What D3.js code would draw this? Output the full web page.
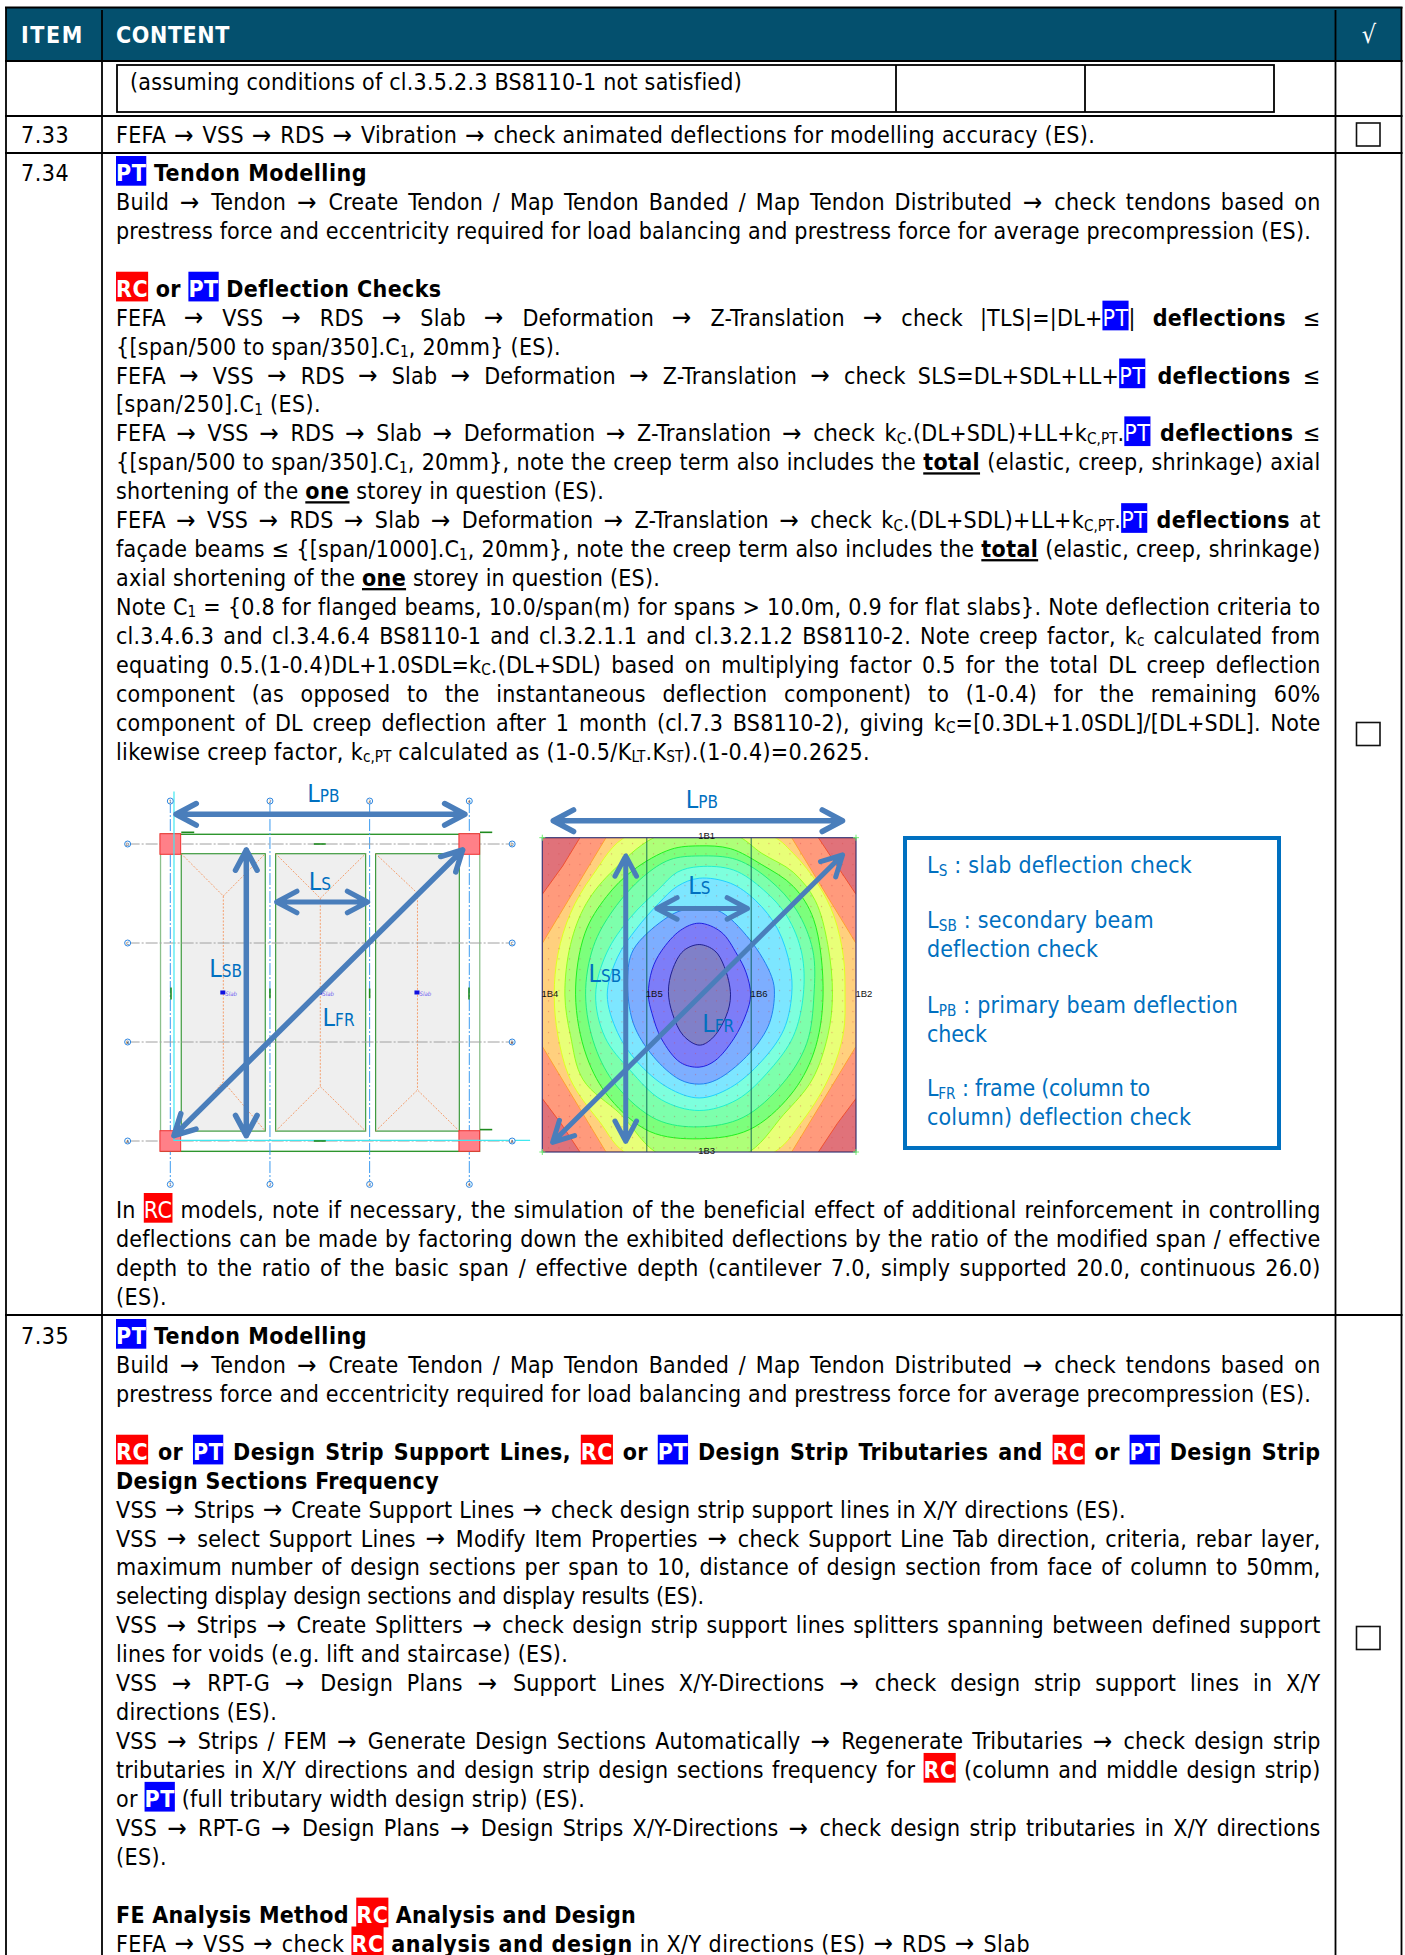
<!DOCTYPE html>
<html>
<head>
<meta charset="utf-8">
<script src="https://cdn.jsdelivr.net/npm/d3@7"></script>
<style>
  html, body { margin: 0; padding: 0; background: #fff; }
  svg { display: block; }
  text { white-space: pre; }
</style>
</head>
<body>
<svg id="page" width="1405" height="1955"></svg>
<script>
// --- text content: ** bold, __ underlined bold, ~ subscript, @RC/@PT badges, leading | = justified
const headerLabels = ["ITEM", "CONTENT", "√"];
const itemLabels = ["7.33", "7.34", "7.35"];
const carryLine = "(assuming conditions of cl.3.5.2.3 BS8110-1 not satisfied)";
const row733 = ["FEFA → VSS → RDS → Vibration → check animated deflections for modelling accuracy (ES)."];
const row734a = [
  "**@PT Tendon Modelling**",
  "|Build → Tendon → Create Tendon / Map Tendon Banded / Map Tendon Distributed → check tendons based on",
  "prestress force and eccentricity required for load balancing and prestress force for average precompression (ES).",
  "",
  "**@RC or @PT Deflection Checks**",
  "|FEFA → VSS → RDS → Slab → Deformation → Z-Translation → check |TLS|=|DL+@PT| **deflections** ≤",
  "{[span/500 to span/350].C~1~, 20mm} (ES).",
  "|FEFA → VSS → RDS → Slab → Deformation → Z-Translation → check SLS=DL+SDL+LL+@PT **deflections** ≤",
  "[span/250].C~1~ (ES).",
  "|FEFA → VSS → RDS → Slab → Deformation → Z-Translation → check k~C~.(DL+SDL)+LL+k~C,PT~.@PT **deflections** ≤",
  "|{[span/500 to span/350].C~1~, 20mm}, note the creep term also includes the __total__ (elastic, creep, shrinkage) axial",
  "shortening of the __one__ storey in question (ES).",
  "|FEFA → VSS → RDS → Slab → Deformation → Z-Translation → check k~C~.(DL+SDL)+LL+k~C,PT~.@PT **deflections** at",
  "|façade beams ≤ {[span/1000].C~1~, 20mm}, note the creep term also includes the __total__ (elastic, creep, shrinkage)",
  "axial shortening of the __one__ storey in question (ES).",
  "|Note C~1~ = {0.8 for flanged beams, 10.0/span(m) for spans > 10.0m, 0.9 for flat slabs}. Note deflection criteria to",
  "|cl.3.4.6.3 and cl.3.4.6.4 BS8110-1 and cl.3.2.1.1 and cl.3.2.1.2 BS8110-2. Note creep factor, k~c~ calculated from",
  "|equating 0.5.(1-0.4)DL+1.0SDL=k~C~.(DL+SDL) based on multiplying factor 0.5 for the total DL creep deflection",
  "|component (as opposed to the instantaneous deflection component) to (1-0.4) for the remaining 60%",
  "|component of DL creep deflection after 1 month (cl.7.3 BS8110-2), giving k~C~=[0.3DL+1.0SDL]/[DL+SDL]. Note",
  "likewise creep factor, k~c,PT~ calculated as (1-0.5/K~LT~.K~ST~).(1-0.4)=0.2625."
];
const row734b = [
  "|In @RC models, note if necessary, the simulation of the beneficial effect of additional reinforcement in controlling",
  "|deflections can be made by factoring down the exhibited deflections by the ratio of the modified span / effective",
  "|depth to the ratio of the basic span / effective depth (cantilever 7.0, simply supported 20.0, continuous 26.0)",
  "(ES)."
];
const row735 = [
  "**@PT Tendon Modelling**",
  "|Build → Tendon → Create Tendon / Map Tendon Banded / Map Tendon Distributed → check tendons based on",
  "prestress force and eccentricity required for load balancing and prestress force for average precompression (ES).",
  "",
  "|**@RC or @PT Design Strip Support Lines, @RC or @PT Design Strip Tributaries and @RC or @PT Design Strip**",
  "**Design Sections Frequency**",
  "VSS → Strips → Create Support Lines → check design strip support lines in X/Y directions (ES).",
  "|VSS → select Support Lines → Modify Item Properties → check Support Line Tab direction, criteria, rebar layer,",
  "|maximum number of design sections per span to 10, distance of design section from face of column to 50mm,",
  "selecting display design sections and display results (ES).",
  "|VSS → Strips → Create Splitters → check design strip support lines splitters spanning between defined support",
  "lines for voids (e.g. lift and staircase) (ES).",
  "|VSS → RPT-G → Design Plans → Support Lines X/Y-Directions → check design strip support lines in X/Y",
  "directions (ES).",
  "|VSS → Strips / FEM → Generate Design Sections Automatically → Regenerate Tributaries → check design strip",
  "|tributaries in X/Y directions and design strip design sections frequency for **@RC** (column and middle design strip)",
  "or **@PT** (full tributary width design strip) (ES).",
  "|VSS → RPT-G → Design Plans → Design Strips X/Y-Directions → check design strip tributaries in X/Y directions",
  "(ES).",
  "",
  "**FE Analysis Method @RC Analysis and Design**",
  "FEFA → VSS → check **@RC analysis and design** in X/Y directions (ES) → RDS → Slab"
];
const legendLines = [
  "L~S~ : slab deflection check",
  "",
  "L~SB~ : secondary beam",
  "deflection check",
  "",
  "L~PB~ : primary beam deflection",
  "check",
  "",
  "L~FR~ : frame (column to",
  "column) deflection check"
];

// --- plan diagram, in grid bays (grid line 1 = 0, grid line 4 = 3)
const gridTicks = [0, 1, 2, 3];
const gridNamesX = ["1", "2", "3", "4"];
const gridNamesY = ["D", "C", "B", "A"];
const slabPanels = [
  {x0: 0.11, x1: 0.953, ridge: 0.532, top: 0.525, bottom: 2.40},
  {x0: 1.057, x1: 1.96, ridge: 1.505, top: 0.549, bottom: 2.45},
  {x0: 2.06, x1: 2.90, ridge: 2.48, top: 0.498, bottom: 2.485}
];
const greenMarks = [
  [0.11, -0.118, 0.24, -0.118], [3.107, -0.118, 3.23, -0.118], [3.107, 2.885, 3.23, 2.885],
  [1.44, 0, 1.56, 0], [1.44, 3, 1.56, 3],
  [0.007, 1.45, 0.007, 1.57], [1.0, 1.46, 1.0, 1.56], [2.0, 1.46, 2.0, 1.56], [2.997, 1.45, 2.997, 1.57]
];
const planArrows = [
  {name: "LPB", x0: 0.057, y0: -0.30, x1: 2.956, y1: -0.30, w: 5.5},
  {name: "LS", x0: 1.067, y0: 0.586, x1: 1.98, y1: 0.586, w: 5},
  {name: "LSB", x0: 0.7625, y0: 0.06, x1: 0.7625, y1: 2.946, w: 5.5},
  {name: "LFR", x0: 0.037, y0: 2.946, x1: 2.933, y1: 0.06, w: 5.5}
];
const planLabels = [
  {main: "L", sub: "PB", x: 1.375, y: -0.424}, {main: "L", sub: "S", x: 1.39, y: 0.465},
  {main: "L", sub: "SB", x: 0.39, y: 1.347}, {main: "L", sub: "FR", x: 1.528, y: 1.835}
];

// --- contour plot, bands from the slab edge to the midspan, in % of the bay
const cornerBands = [
  [[0, 0], [12, 0], [6.5, 9], [0, 18]], [[100, 0], [88, 0], [94, 9], [100, 18]],
  [[100, 100], [88, 100], [94, 91], [100, 83]], [[0, 100], [12, 100], [6, 91], [0, 83]]
];
const contourBands = [
  [[20.3, 0], [79.5, 0], [100, 33.6], [100, 66.4], [79.5, 100], [20.3, 100], [0, 66.4], [0, 33.6]],
  [[28, -1], [72, -1], [80, 5], [88, 15], [93, 25], [96, 38], [96.5, 50], [96, 62], [92, 75], [83, 90], [72, 101], [28, 101], [18, 90], [9, 77], [5, 63], [3.8, 50], [5, 37], [9, 24], [16, 12]],
  [[38, -1], [61, -1], [70, 5], [80, 11], [87, 20], [91, 34], [92.5, 50], [91, 63], [86, 77], [77, 88], [64, 101], [38, 101], [25, 88], [13, 77], [9, 63], [7.2, 50], [9, 34], [14, 21], [23, 10]],
  [[50, 2.6], [60, 3.5], [70, 8.6], [80, 15.5], [86.5, 26], [89.5, 50], [86.5, 68.5], [79, 82], [66, 92.9], [50, 95.8], [34.3, 93.5], [21.6, 83], [14.1, 69.5], [10.6, 50], [13.6, 30.4], [20.5, 18.7], [29, 10.3], [41, 3.7]],
  [[50, 5.8], [62, 7], [72.5, 13.5], [81, 23], [86.2, 35.7], [86.6, 50], [84.3, 65.4], [76.8, 78], [64, 89], [50, 92], [36.5, 89.7], [23.7, 79], [16.8, 66.4], [13.8, 50], [16.3, 34.6], [22.6, 23], [32.2, 12.4], [40.7, 7]],
  [[50, 9.2], [61, 10.3], [70.5, 16.6], [78, 25], [82.7, 36.7], [83.2, 50], [80, 63.2], [72.6, 73.8], [62, 83.4], [50, 86.8], [38, 83.4], [28, 74], [20, 63.5], [17, 50], [20.5, 36.7], [28, 25.5], [37, 16.5], [43, 11]],
  [[50, 12.9], [60, 14.5], [68, 20], [75, 29], [79, 41], [79.5, 50], [77, 61], [70, 71], [60, 79.5], [50, 82.8], [40, 79.5], [30, 71], [24, 62], [20.7, 50], [24, 38], [30, 29], [37, 21], [43, 15.5]],
  [[55.6, 23], [66.2, 32.5], [73.1, 44.2], [74, 50], [72, 60], [65.1, 69.6], [55.6, 77], [50, 78.4], [43.9, 77], [35.4, 69.6], [29, 59], [27.2, 45], [29, 35.7], [38.6, 26.2], [45, 23]],
  [[50, 27.2], [57, 30], [62, 37], [65, 43], [66.4, 50], [65, 56], [61, 64], [55, 71], [50, 73], [44, 71.5], [38, 64], [35, 56], [33.8, 50], [35, 42], [38, 36], [44, 29.5]],
  [[50, 34], [55, 36], [58, 41], [60, 50], [58.5, 57], [54, 64], [50, 66], [45, 63], [41.5, 56], [40.2, 49], [41.5, 42], [45, 36]]
];
const bandFills = ["#FFD07E", "#E8FF78", "#AEFF78", "#7CFF7C", "#7DFFAC", "#7DFFDD", "#7DE6FF", "#7DAEFF", "#7D7DF8", "#8080C8"];
const bandStrokes = ["#FFA030", "#E0FF20", "#90FF20", "#20F020", "#20F080", "#20F0D0", "#20D0FF", "#2080F0", "#2020E0", "#202090"];
const stripBeams = [33.3, 66.6];
const beamLabels = [
  {t: "1B1", x: 52.4, y: -0.6}, {t: "1B3", x: 52.4, y: 99.4}, {t: "1B4", x: 2.4, y: 49.6},
  {t: "1B5", x: 35.7, y: 49.6}, {t: "1B6", x: 69.1, y: 49.6}, {t: "1B2", x: 102.5, y: 49.6}
];
const heatArrows = [
  {name: "LPB", x0: 3.5, y0: -5.4, x1: 95.7, y1: -5.4, w: 5.5},
  {name: "LS", x0: 36.5, y0: 22.5, x1: 65.4, y1: 22.5, w: 5},
  {name: "LSB", x0: 26.6, y0: 5.8, x1: 26.6, y1: 96.6, w: 5},
  {name: "LFR", x0: 3.3, y0: 96.9, x1: 95.7, y1: 5.5, w: 5}
];
const heatLabels = [
  {main: "L", sub: "PB", x: 45.7, y: -9.3}, {main: "L", sub: "S", x: 46.5, y: 17.9},
  {main: "L", sub: "SB", x: 14.7, y: 46}, {main: "L", sub: "FR", x: 51, y: 61.7}
];

// --- layout
const svg = d3.select("#page");
const FONT = '"DejaVu Sans Condensed", "DejaVu Sans"';
const FS = 23, TRACK = 0.22, BOLD_TRACK = 0.35, BADGE_TRACK = 0.5;
const INK = "#000";
const TEAL = "#04506E";
const LEFT = 116, RIGHT = 1320.5;
const COL_A = 102, COL_B = 1335.5, EDGE_L = 6, EDGE_R = 1401.5;
const PITCH = 28.93;
const ARROW = "#4A7EBB", LABEL = "#0070C0";

// right ends of the lines that are not justified, the fonts differ so each is fitted
const endsCarry = 742;
const ends733 = {0: 1095};
const ends734a = {0: 367, 2: 1311, 4: 441.5, 6: 561, 8: 321, 11: 604, 14: 660, 20: 870};
const ends734b = {3: 167};
const ends735 = {0: 367, 2: 1311, 5: 439, 6: 1126, 9: 704, 11: 568, 13: 277, 16: 585, 18: 167, 20: 636, 21: 1030};
const endsLegend = {0: 1192, 2: 1154, 3: 1098, 5: 1238, 6: 987, 8: 1150, 9: 1191};

function parseLine(src) {
  const runs = [];
  let bold = false, under = false, sub = false;
  src.split(/(\*\*|__|~|@RC|@PT|→)/).forEach(tok => {
    if (tok === "**") bold = !bold;
    else if (tok === "__") under = !under;
    else if (tok === "~") sub = !sub;
    else if (tok === "@RC" || tok === "@PT") runs.push({text: tok.slice(1), bold, badge: tok.slice(1)});
    else if (tok === "→") runs.push({text: tok, arrow: true});
    else if (tok) runs.push({text: tok, bold: bold || under, under, sub});
  });
  return runs;
}

function runTrack(r) {
  if (r.sub) return 0;
  if (r.arrow) return 3.2;
  if (r.badge) return BADGE_TRACK;
  return r.bold ? BOLD_TRACK : TRACK;
}

function drawLine(g, src, baseline, opts = {}) {
  const justify = src[0] === "|";
  const runs = parseLine(justify ? src.slice(1) : src);
  const x0 = opts.x === undefined ? LEFT : opts.x;
  const fs = opts.size || FS;
  const fill = opts.fill || INK;
  let spaces = 0;
  runs.forEach(r => {
    r.rect = r.badge ? g.append("rect").attr("fill", r.badge === "RC" ? "#FF0000" : "#0000FF") : null;
    r.node = g.append("text")
      .attr("font-family", FONT)
      .attr("font-size", r.sub ? fs * 0.66 : r.arrow ? fs * 1.12 : fs)
      .attr("font-weight", r.bold ? "bold" : "normal")
      .attr("letter-spacing", runTrack(r))
      .attr("fill", r.badge ? "#fff" : fill)
      .style("text-decoration", r.under ? "underline" : null)
      .text(r.text);
    r.w = r.node.node().getComputedTextLength();
    if (!r.badge && !r.arrow) spaces += (r.text.match(/ /g) || []).length;
  });
  const natural = d3.sum(runs, r => r.w);
  const extra = justify && spaces ? (RIGHT - x0 - natural) / spaces : 0;

  // lines with a known right end take up the difference in the letter spacing
  if (opts.end !== undefined) {
    const fitted = runs.filter(r => !r.badge && !r.arrow && !r.sub);
    const delta = (opts.end - x0 - natural) / d3.sum(fitted, r => r.text.length);
    fitted.forEach(r => {
      r.node.attr("letter-spacing", runTrack(r) + delta);
      r.w = r.node.node().getComputedTextLength();
    });
  }

  let x = x0;
  runs.forEach(r => {
    const n = (r.badge || r.arrow) ? 0 : (r.text.match(/ /g) || []).length;
    r.node.attr("x", x + (r.arrow ? 1.2 : 0)).attr("y", baseline + (r.sub ? 2.5 : r.arrow ? 0.8 : 0))
      .attr("word-spacing", (r.badge || r.arrow) ? null : extra);
    if (r.rect) r.rect.attr("x", x).attr("y", baseline - 25).attr("width", r.w).attr("height", 29.7);
    x += r.w + n * extra;
  });
}

function drawBlock(g, lines, firstBaseline, ends) {
  const y = d3.scaleLinear().domain([0, 1]).range([firstBaseline, firstBaseline + PITCH]);
  lines.forEach((src, i) => { if (src) drawLine(g, src, y(i), {end: ends[i]}); });
}

function hline(g, y, x0, x1, w) {
  g.append("line").attr("x1", x0).attr("x2", x1).attr("y1", y).attr("y2", y).attr("stroke", INK).attr("stroke-width", w);
}
function vline(g, x, y0, y1, w) {
  g.append("line").attr("x1", x).attr("x2", x).attr("y1", y0).attr("y2", y1).attr("stroke", INK).attr("stroke-width", w);
}

// header band and table rules
const tableG = svg.append("g");
tableG.append("rect").attr("x", EDGE_L).attr("y", 7.5).attr("width", EDGE_R - EDGE_L).attr("height", 53.5).attr("fill", TEAL);
[7.5, 61, 116, 153, 1315].forEach(y => hline(tableG, y, EDGE_L - 1, EDGE_R + 1, 1.8));
vline(tableG, EDGE_L, 7, 1955, 1.8);
vline(tableG, COL_A, 10, 1955, 1.8);
vline(tableG, COL_B, 10, 1955, 1.8);
vline(tableG, EDGE_R, 7, 1955, 1.8);

// carried-over check table at the top of the page
const boxEdges = [117, 896, 1085, 1274];
tableG.append("rect").attr("x", boxEdges[0]).attr("y", 65).attr("width", boxEdges[3] - boxEdges[0]).attr("height", 47)
  .attr("fill", "none").attr("stroke", INK).attr("stroke-width", 1.8);
boxEdges.slice(1, 3).forEach(x => vline(tableG, x, 65, 112, 1.8));

// header labels
const textG = svg.append("g");
[[headerLabels[0], 21, 1.6], [headerLabels[1], 116, 0.6]].forEach(([t, x, ls]) => {
  textG.append("text").attr("x", x).attr("y", 43).attr("font-family", FONT).attr("font-weight", "bold")
    .attr("font-size", 23).attr("letter-spacing", ls).attr("fill", "#fff").text(t);
});
textG.append("text").attr("x", 1369).attr("y", 43).attr("text-anchor", "middle").attr("font-family", FONT)
  .attr("font-size", 25).attr("fill", "#fff").text(headerLabels[2]);

// item numbers
const itemBaselines = [143.3, 181, 1344];
itemLabels.forEach((t, i) => {
  textG.append("text").attr("x", 21).attr("y", itemBaselines[i]).attr("font-family", FONT)
    .attr("font-size", FS).attr("letter-spacing", 0.55).text(t);
});

// body text
drawLine(textG, carryLine, 90, {x: 130, end: endsCarry});
drawBlock(textG, row733, 143.3, ends733);
drawBlock(textG, row734a, 181, ends734a);
drawBlock(textG, row734b, 1218, ends734b);
drawBlock(textG, row735, 1344, ends735);

// tick boxes
const tickCentres = [134.5, 734, 1638];
tickCentres.forEach(c => {
  textG.append("rect").attr("x", 1356.5).attr("y", c - 11.5).attr("width", 23.5).attr("height", 23)
    .attr("fill", "#fff").attr("stroke", "#111").attr("stroke-width", 1.6);
});

// both diagrams use the same arrow and label look
function arrowPath(a, x, y) {
  const ax = x(a.x0), ay = y(a.y0), bx = x(a.x1), by = y(a.y1);
  const ang = Math.atan2(by - ay, bx - ax), wing = 23, off = 28 * Math.PI / 180;
  const head = (px, py, dir) => [
    [px + wing * Math.cos(dir - off), py + wing * Math.sin(dir - off)], [px, py],
    [px + wing * Math.cos(dir + off), py + wing * Math.sin(dir + off)]
  ];
  const line = d3.line();
  return line([[ax, ay], [bx, by]]) + line(head(ax, ay, ang)) + line(head(bx, by, ang + Math.PI));
}
function drawArrows(g, arrows, x, y) {
  g.selectAll("path.arrow").data(arrows).join("path").attr("class", "arrow")
    .attr("d", d => arrowPath(d, x, y)).attr("fill", "none").attr("stroke", ARROW)
    .attr("stroke-width", d => d.w).attr("stroke-linecap", "round").attr("stroke-linejoin", "round");
}
function drawLabels(g, labels, x, y) {
  labels.forEach(d => {
    const t = g.append("text").attr("x", x(d.x)).attr("y", y(d.y)).attr("font-family", FONT).attr("fill", LABEL);
    t.append("tspan").attr("font-size", 25).text(d.main);
    t.append("tspan").attr("font-size", 17).text(d.sub);
  });
}

// --- plan diagram
const planX = d3.scaleLinear().domain([0, 3]).range([170.3, 469.3]);
const planY = d3.scaleLinear().domain([0, 3]).range([844, 1141]);
const planG = svg.append("g");
const edge = {lo: -0.098, hi: 3.105, colHalf: 0.104};

planG.selectAll("rect.panel").data(slabPanels).join("rect").attr("class", "panel")
  .attr("x", d => planX(d.x0)).attr("width", d => planX(d.x1) - planX(d.x0))
  .attr("y", planY(0.098)).attr("height", planY(2.90) - planY(0.098))
  .attr("fill", "#EFEFEF").attr("stroke", "#3E9A3E").attr("stroke-width", 1.2);

const ridgeLine = d3.line().x(d => planX(d[0])).y(d => planY(d[1]));
planG.selectAll("path.ridge").data(slabPanels).join("path").attr("class", "ridge")
  .attr("d", d => ridgeLine([[d.x0, 0.098], [d.ridge, d.top], [d.x1, 0.098]]) +
    ridgeLine([[d.ridge, d.top], [d.ridge, d.bottom]]) +
    ridgeLine([[d.x0, 2.90], [d.ridge, d.bottom], [d.x1, 2.90]]))
  .attr("fill", "none").attr("stroke", "#F4A070").attr("stroke-width", 1).attr("stroke-dasharray", "2 1.5");

// beam frame
planG.append("rect").attr("x", planX(edge.lo)).attr("y", planY(edge.lo))
  .attr("width", planX(edge.hi) - planX(edge.lo)).attr("height", planY(edge.hi) - planY(edge.lo))
  .attr("fill", "none").attr("stroke", "#8CC08C").attr("stroke-width", 1.3);
planG.append("line").attr("x1", planX(edge.lo)).attr("x2", planX(edge.hi)).attr("y1", planY(edge.lo)).attr("y2", planY(edge.lo))
  .attr("stroke", "#2E962E").attr("stroke-width", 1.2);
planG.append("line").attr("x1", planX(edge.lo)).attr("x2", planX(edge.hi)).attr("y1", planY(edge.hi)).attr("y2", planY(edge.hi))
  .attr("stroke", "#2E962E").attr("stroke-width", 1.2);

// grid lines
planG.selectAll("line.gx").data(gridTicks).join("line").attr("class", "gx")
  .attr("x1", d => planX(d)).attr("x2", d => planX(d)).attr("y1", planY(-0.434)).attr("y2", planY(3.438))
  .attr("stroke", "#3C9BF0").attr("stroke-width", 1).attr("stroke-dasharray", "12 2 2 2");
planG.selectAll("line.gy").data(gridTicks).join("line").attr("class", "gy")
  .attr("x1", planX(-0.428)).attr("x2", planX(3.43)).attr("y1", d => planY(d)).attr("y2", d => planY(d))
  .attr("stroke", "#A0A0A0").attr("stroke-width", 1).attr("stroke-dasharray", "12 2 2 2");

// columns
const colCentres = [[0, 0], [3, 0], [0, 3], [3, 3]];
planG.selectAll("rect.col").data(colCentres).join("rect").attr("class", "col")
  .attr("x", d => planX(d[0] - edge.colHalf)).attr("y", d => planY(d[1] - edge.colHalf))
  .attr("width", planX(2 * edge.colHalf) - planX(0)).attr("height", planY(2 * edge.colHalf) - planY(0))
  .attr("fill", "#FF8088").attr("stroke", "#F03030").attr("stroke-width", 1);

// cyan reference lines
planG.append("path").attr("d", ridgeLine([[0.037, -0.53], [0.037, 2.993], [3.61, 2.993]]))
  .attr("fill", "none").attr("stroke", "#40E8F0").attr("stroke-width", 1.2);

// green section marks
planG.selectAll("line.mark").data(greenMarks).join("line").attr("class", "mark")
  .attr("x1", d => planX(d[0])).attr("y1", d => planY(d[1])).attr("x2", d => planX(d[2])).attr("y2", d => planY(d[3]))
  .attr("stroke", "#1E8A1E").attr("stroke-width", 1.6);

// slab markers
slabPanels.forEach(d => {
  planG.append("rect").attr("x", planX(d.ridge) - 3).attr("y", planY(1.51) - 3).attr("width", 5).attr("height", 4).attr("fill", "#1010E0");
  planG.append("text").attr("x", planX(d.ridge) + 2).attr("y", planY(1.51) + 2.5).attr("font-family", FONT)
    .attr("font-size", 6).attr("font-style", "italic").attr("fill", "#7060F0").text("Slab");
});

// grid bubbles
function bubble(cx, cy, name) {
  planG.append("circle").attr("cx", cx).attr("cy", cy).attr("r", 3).attr("fill", "#fff").attr("stroke", "#2E86E0").attr("stroke-width", 1);
  planG.append("text").attr("x", cx).attr("y", cy + 1.7).attr("text-anchor", "middle").attr("font-family", FONT).attr("font-size", 4.5).text(name);
}
gridTicks.forEach((d, i) => {
  bubble(planX(d), planY(-0.434), gridNamesX[i]);
  bubble(planX(d), planY(3.438), gridNamesX[i]);
  bubble(planX(-0.428), planY(d), gridNamesY[i]);
  bubble(planX(3.43), planY(d), gridNamesY[i]);
});
drawArrows(planG, planArrows, planX, planY);
drawLabels(planG, planLabels, planX, planY);

// --- contour diagram
const heatX = d3.scaleLinear().domain([0, 100]).range([542.3, 856]);
const heatY = d3.scaleLinear().domain([0, 100]).range([837.7, 1152]);
const heatG = svg.append("g");
const defs = svg.append("defs");
defs.append("clipPath").attr("id", "heatClip").append("rect")
  .attr("x", heatX(0)).attr("y", heatY(0)).attr("width", heatX(100) - heatX(0)).attr("height", heatY(100) - heatY(0));
const dots = defs.append("pattern").attr("id", "meshDots").attr("width", 10.5).attr("height", 10.5).attr("patternUnits", "userSpaceOnUse");
dots.append("rect").attr("x", 2).attr("y", 3).attr("width", 1).attr("height", 1).attr("fill", "#D04040").attr("opacity", 0.55);

const bands = heatG.append("g").attr("clip-path", "url(#heatClip)");
bands.append("rect").attr("x", heatX(0)).attr("y", heatY(0)).attr("width", heatX(100) - heatX(0)).attr("height", heatY(100) - heatY(0)).attr("fill", "#FF9A7C");
const ringStraight = d3.line().x(d => heatX(d[0])).y(d => heatY(d[1])).curve(d3.curveLinearClosed);
const ringSmooth = d3.line().x(d => heatX(d[0])).y(d => heatY(d[1])).curve(d3.curveCatmullRomClosed.alpha(0.5));
bands.selectAll("path.corner").data(cornerBands).join("path").attr("class", "corner")
  .attr("d", ringStraight).attr("fill", "#E0727A").attr("stroke", "#F05030").attr("stroke-width", 1);
bands.selectAll("path.band").data(contourBands).join("path").attr("class", "band")
  .attr("d", (d, i) => i === 0 ? ringStraight(d) : ringSmooth(d))
  .attr("fill", (d, i) => bandFills[i]).attr("stroke", (d, i) => bandStrokes[i]).attr("stroke-width", 1);
bands.append("rect").attr("x", heatX(0)).attr("y", heatY(0)).attr("width", heatX(100) - heatX(0)).attr("height", heatY(100) - heatY(0)).attr("fill", "url(#meshDots)");

stripBeams.forEach(d => {
  heatG.append("line").attr("x1", heatX(d)).attr("x2", heatX(d)).attr("y1", heatY(0)).attr("y2", heatY(100))
    .attr("stroke", "#0A5A50").attr("stroke-opacity", 0.75).attr("stroke-width", 1.2);
});
heatG.append("rect").attr("x", heatX(0)).attr("y", heatY(0)).attr("width", heatX(100) - heatX(0)).attr("height", heatY(100) - heatY(0))
  .attr("fill", "none").attr("stroke", "#3A3A7A").attr("stroke-width", 1.2);
[[0, 0], [100, 0], [0, 100], [100, 100]].forEach(c => {
  heatG.append("path").attr("d", `M${heatX(c[0]) - 3},${heatY(c[1])}h6M${heatX(c[0])},${heatY(c[1]) - 3}v6`)
    .attr("stroke", "#70F070").attr("stroke-width", 1);
});
heatG.selectAll("text.beam").data(beamLabels).join("text").attr("class", "beam")
  .attr("x", d => heatX(d.x)).attr("y", d => heatY(d.y) + 3.5).attr("text-anchor", "middle")
  .attr("font-family", "Liberation Sans").attr("font-size", 9.5).attr("fill", "#111").text(d => d.t);
drawArrows(heatG, heatArrows, heatX, heatY);
drawLabels(heatG, heatLabels, heatX, heatY);

// --- legend box
const legendG = svg.append("g");
legendG.append("rect").attr("x", 905).attr("y", 838).attr("width", 374).attr("height", 310)
  .attr("fill", "#fff").attr("stroke", LABEL).attr("stroke-width", 4);
const legendBase = [873, 0, 928, 957, 0, 1013, 1042, 0, 1096, 1125];
legendLines.forEach((src, i) => {
  if (src) drawLine(legendG, src, legendBase[i], {x: 927, fill: LABEL, end: endsLegend[i]});
});
</script>
</body>
</html>
